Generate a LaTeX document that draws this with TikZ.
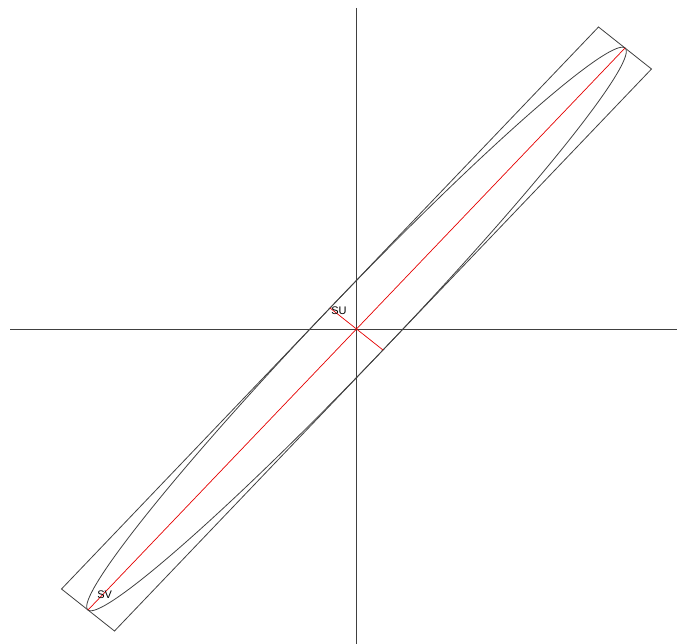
\documentclass[tikz,border=0pt]{standalone}
\usepackage{fontspec}
\setsansfont{Liberation Sans}
\usepackage{tikz}
\usetikzlibrary{calc}
\usetikzlibrary{positioning}

\begin{document}
\begin{tikzpicture}[x=1pt, y=-1pt, line width=0.8pt,
    frame/.style={draw=black!75},
    diam/.style={draw=red!90!black, line width=0.7pt},
    lbl/.style={font=\sffamily\fontsize{11}{12}\selectfont, inner sep=1pt}]

      \useasboundingbox (0,0) rectangle (677,644);

      % Centre of the ellipse
      \coordinate (c) at (356.5,329);

      % Half of the first diameter
      \def\ax{268.5}
      \def\ay{-281}

      % Half of the conjugate diameter
      \def\bx{26.5}
      \def\by{21}

      % Axes
      \coordinate (xl) at (10,329);
      \coordinate (xr) at (677,329);
      \coordinate (yt) at (356,8);
      \coordinate (yb) at (356,644);
      \draw[frame] (xl) -- (xr);
      \draw[frame] (yt) -- (yb);

      % Ends of the two diameters
      \coordinate (sv) at ($(c)-(\ax,\ay)$);
      \coordinate (tv) at ($(c)+(\ax,\ay)$);
      \coordinate (su) at ($(c)-(\bx,\by)$);
      \coordinate (tu) at ($(c)+(\bx,\by)$);

      % Corners of the box around the ellipse
      \coordinate (p1) at ($(c)+(\ax,\ay)+(\bx,\by)$);
      \coordinate (p2) at ($(c)+(\ax,\ay)-(\bx,\by)$);
      \coordinate (p3) at ($(c)-(\ax,\ay)-(\bx,\by)$);
      \coordinate (p4) at ($(c)-(\ax,\ay)+(\bx,\by)$);
      \draw[frame] (p1) -- (p2) -- (p3) -- (p4) -- cycle;

      % Ellipse through the ends of the diameters
      \draw[frame] plot[domain=0:360, samples=181, smooth]
        ({356.5+\ax*cos(\x)+\bx*sin(\x)}, {329+\ay*cos(\x)+\by*sin(\x)});

      % Diameters
      \draw[diam] (sv) -- (tv);
      \draw[diam] (su) -- (tu);

      % Labels
      \node[lbl, right=0pt of su, yshift=-3pt] (labsu) {SU};
      \node[lbl, above right=10pt and 8pt of sv] (labsv) {SV};

    \end{tikzpicture}
\end{document}
